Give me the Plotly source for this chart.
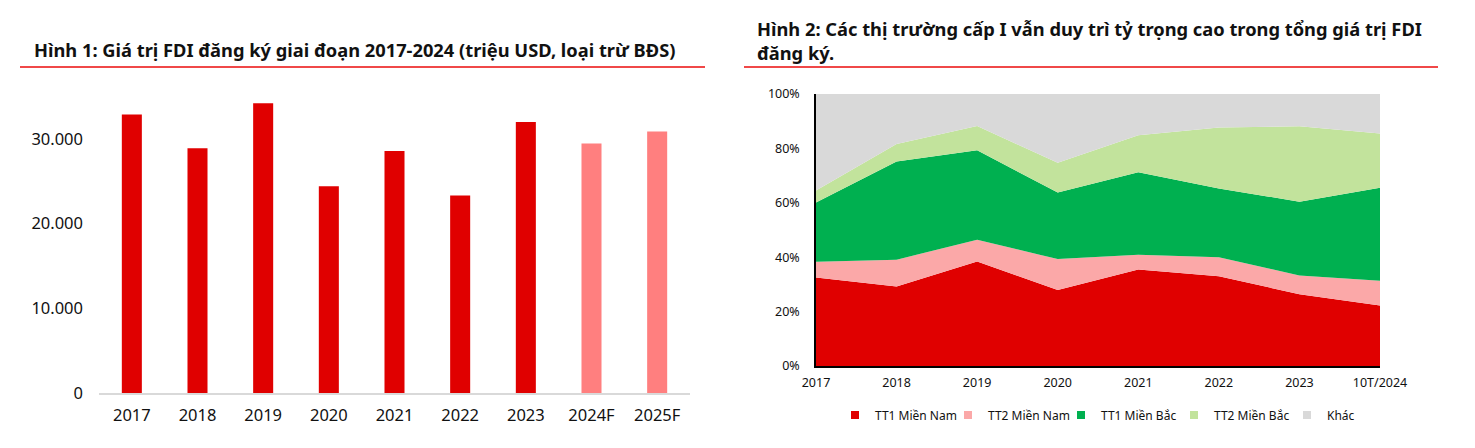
import plotly.graph_objects as go

# Hình 1: FDI đăng ký (triệu USD)
years = ["2017", "2018", "2019", "2020", "2021", "2022", "2023", "2024F", "2025F"]
fdi = [32870, 28900, 34200, 24400, 28580, 23300, 32000, 29450, 30870]

# Hình 2: tỷ trọng theo thị trường (%)
periods = ["2017", "2018", "2019", "2020", "2021", "2022", "2023", "10T/2024"]
tt1_nam = [32.5, 29.2, 38.4, 27.9, 35.5, 33.0, 26.4, 22.2]
tt2_nam = [5.8, 9.9, 8.0, 11.4, 5.4, 7.0, 6.9, 9.1]
tt1_bac = [21.8, 36.1, 32.9, 24.5, 30.3, 25.3, 27.1, 34.2]
tt2_bac = [4.4, 6.4, 8.9, 10.9, 13.6, 22.4, 27.7, 20.0]
khac = [35.5, 18.4, 11.8, 25.3, 15.2, 12.3, 11.9, 14.5]
pct_ticks = [0, 20, 40, 60, 80, 100]

# page body has an 8px margin, so the figure is a bit smaller and offset
OFF = 8
W, H = 1475 - 2 * OFF, 448 - 2 * OFF
FONT = "Noto Sans"


def px(x):
    return (x - OFF) / W


def py(y):
    return 1 - (y - OFF) / H


fig = go.Figure()

bar_colors = ["#FF7F7F" if y.endswith("F") else "#E00000" for y in years]
fig.add_trace(go.Bar(x=years, y=fdi, marker=dict(color=bar_colors, line=dict(width=0)),
                     xaxis="x", yaxis="y", showlegend=False, hoverinfo="x+y"))

series = [
    ("TT1 Miền Nam", tt1_nam, "#E00000"),
    ("TT2 Miền Nam", tt2_nam, "#FBA8A8"),
    ("TT1 Miền Bắc", tt1_bac, "#00B050"),
    ("TT2 Miền Bắc", tt2_bac, "#C2E39C"),
    ("Khác", khac, "#D9D9D9"),
]
for name, vals, col in series:
    fig.add_trace(go.Scatter(x=periods, y=vals, name=name, stackgroup="one", mode="none",
                             fillcolor=col, line=dict(width=0), showlegend=False,
                             xaxis="x2", yaxis="y2"))
# legend entries as small squares like the original
for name, vals, col in series:
    fig.add_trace(go.Scatter(x=[None], y=[None], name=name, mode="markers",
                             marker=dict(symbol="square", size=8, color=col),
                             xaxis="x2", yaxis="y2"))

fig.update_layout(
    width=W, height=H,
    margin=dict(l=0, r=0, t=0, b=0, pad=0, autoexpand=False),
    paper_bgcolor="white", plot_bgcolor="white",
    font=dict(family=FONT, color="#111111"),
    separators=",.",
    bargap=0.695,
    xaxis=dict(domain=[px(99), px(690)], type="category", showline=True,
               linecolor="#D9D9D9", linewidth=1.5, showgrid=False, ticks="",
               tickfont=dict(size=16.5), ticklabelstandoff=6, automargin=False),
    yaxis=dict(domain=[py(393), py(96.5)], range=[0, 35000], showgrid=False,
               zeroline=False, showline=False, tickvals=[0, 10000, 20000, 30000],
               tickformat=",d", tickfont=dict(size=16.5), ticklabelstandoff=15,
               automargin=False),
    xaxis2=dict(domain=[px(816), px(1380)], type="category", range=[0, 7],
                showline=True, linecolor="black", linewidth=1.5, showgrid=False,
                ticks="", tickfont=dict(size=12.5), ticklabelstandoff=4, anchor="y2",
                automargin=False),
    yaxis2=dict(domain=[py(366), py(94)], range=[0, 100], showgrid=False,
                zeroline=False, showline=True, linecolor="black", linewidth=1.5,
                tickvals=pct_ticks, ticktext=[f"{v}%" for v in pct_ticks],
                tickfont=dict(size=12.5), ticklabelstandoff=12, anchor="x2",
                automargin=False),
    legend=dict(orientation="h", x=px(835), xanchor="left", y=py(415),
                yanchor="middle", font=dict(size=12), traceorder="normal",
                itemwidth=30, entrywidth=68, entrywidthmode="pixels",
                bgcolor="rgba(0,0,0,0)"),
    annotations=[
        dict(text="<b>Hình 1: Giá trị FDI đăng ký giai đoạn 2017-2024 (triệu USD, loại trừ BĐS)</b>",
             x=px(32), y=py(50), xref="paper", yref="paper", xanchor="left",
             yanchor="middle", showarrow=False, font=dict(size=18.3)),
        dict(text="<b>Hình 2: Các thị trường cấp I vẫn duy trì tỷ trọng cao trong tổng giá trị FDI<br>đăng ký.</b>",
             x=px(755), y=py(41), xref="paper", yref="paper", xanchor="left",
             yanchor="middle", align="left", showarrow=False, font=dict(size=18.3)),
    ],
    shapes=[
        dict(type="line", xref="paper", yref="paper", x0=px(20), x1=px(705),
             y0=py(67), y1=py(67), line=dict(color="#F04848", width=2)),
        dict(type="line", xref="paper", yref="paper", x0=px(744), x1=px(1438),
             y0=py(67), y1=py(67), line=dict(color="#F04848", width=2)),
    ],
)

fig.write_html("out.html")
